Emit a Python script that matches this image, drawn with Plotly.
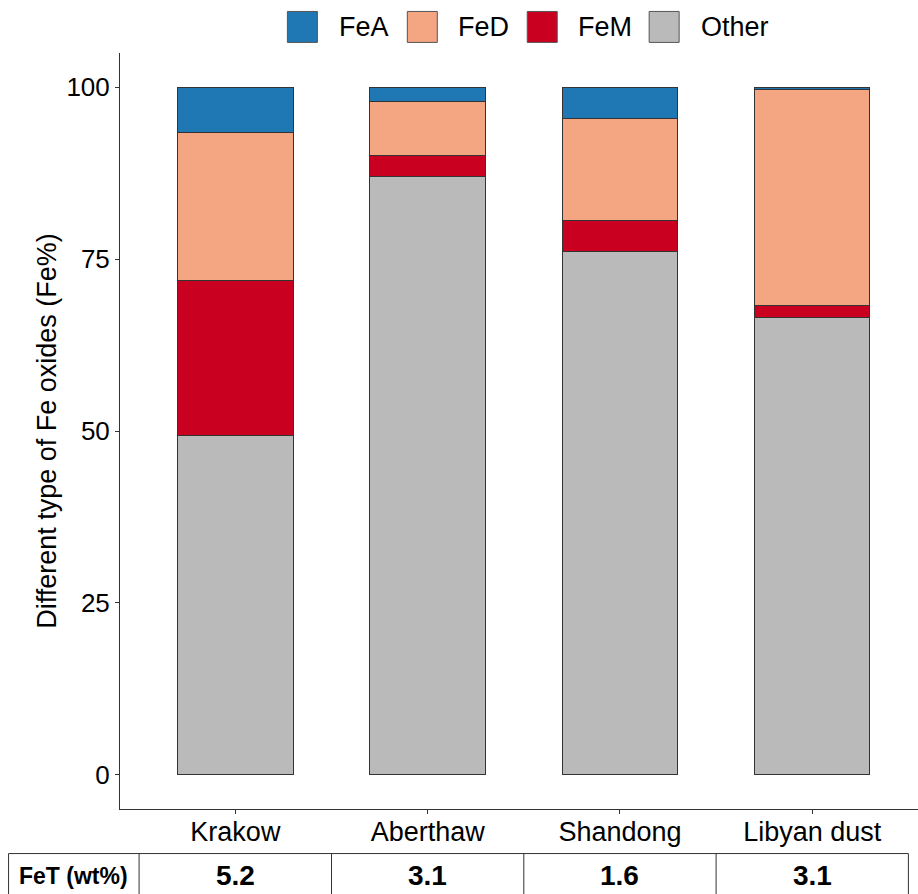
import plotly.graph_objects as go

sites = ["Krakow", "Aberthaw", "Shandong", "Libyan dust"]
other = [49.3, 87.1, 76.1, 66.5]
fem = [22.6, 3.0, 4.5, 1.7]
fed = [21.6, 7.9, 14.8, 31.5]
fea = [6.5, 2.0, 4.6, 0.3]
fet = ["5.2", "3.1", "1.6", "3.1"]
fet_label = "FeT (wt%)"

series_names = ["FeA", "FeD", "FeM", "Other"]
series_vals = [fea, fed, fem, other]
colors = {"FeA": "#1F77B4", "FeD": "#F4A582", "FeM": "#CA0020", "Other": "#BABABA"}

W, H = 918, 894
ml, mr, mt, mb = 119.5, 0, 52.6, 84.6
pw = W - ml - mr
ph = H - mt - mb

def px2x(px):
    return (px - ml) / pw

def py2y(py):
    return (H - mb - py) / ph

font_family = "Arial, Liberation Sans, sans-serif"

fig = go.Figure()
# stack from bottom: Other, FeM, FeD, FeA
for name in ["Other", "FeM", "FeD", "FeA"]:
    vals = series_vals[series_names.index(name)]
    fig.add_trace(go.Bar(
        x=sites, y=vals, name=name, showlegend=False,
        marker=dict(color=colors[name], line=dict(color="#333333", width=1)),
        width=0.6, hoverinfo="skip",
    ))

shapes = []
annotations = []

# manual legend (large keys)
box_x = [287, 407, 527, 649]
txt_x = [337, 456, 576, 699]
for i, name in enumerate(series_names):
    shapes.append(dict(type="rect", xref="paper", yref="paper",
                       x0=px2x(box_x[i]), x1=px2x(box_x[i] + 30),
                       y0=py2y(42), y1=py2y(11),
                       fillcolor=colors[name], line=dict(color="#555555", width=1)))
    annotations.append(dict(xref="paper", yref="paper", x=px2x(txt_x[i]), y=py2y(27),
                            text=name, showarrow=False, xanchor="left", yanchor="middle",
                            font=dict(size=27, color="black", family=font_family)))

# table below the axis
t_top, t_bot = py2y(854), py2y(940)
left = px2x(8)
shapes.append(dict(type="rect", xref="paper", yref="paper", x0=left, x1=px2x(908.4),
                   y0=t_bot, y1=t_top, line=dict(color="#333333", width=1)))
shapes.append(dict(type="line", xref="paper", yref="paper", x0=px2x(138.6), x1=px2x(138.6),
                   y0=t_bot, y1=t_top, line=dict(color="#333333", width=1)))
for k in range(len(sites) - 1):
    shapes.append(dict(type="line", xref="x", yref="paper", x0=k + 0.5, x1=k + 0.5,
                       y0=t_bot, y1=t_top, line=dict(color="#333333", width=1)))
annotations.append(dict(xref="paper", yref="paper", x=px2x(73), y=py2y(876),
                        text="<b>" + fet_label + "</b>", showarrow=False,
                        xanchor="center", yanchor="middle",
                        font=dict(size=23, color="black", family=font_family)))
for i, s in enumerate(sites):
    annotations.append(dict(xref="x", yref="paper", x=s, y=py2y(876),
                            text="<b>" + fet[i] + "</b>", showarrow=False,
                            xanchor="center", yanchor="middle",
                            font=dict(size=28, color="black", family=font_family)))

fig.update_layout(
    width=W, height=H,
    margin=dict(l=ml, r=mr, t=mt, b=mb, pad=0),
    barmode="stack", bargap=0.4,
    plot_bgcolor="white", paper_bgcolor="white",
    font=dict(family=font_family, color="black"),
    shapes=shapes, annotations=annotations,
    showlegend=False, hovermode=False,
)
fig.update_xaxes(
    range=[-0.6, 3.55], showline=True, linecolor="#333333", linewidth=1,
    ticks="outside", ticklen=4, tickcolor="#333333", showgrid=False,
    tickfont=dict(size=27, color="black"), zeroline=False, ticklabelstandoff=-5,
)
fig.update_yaxes(
    range=[-5, 105], tickvals=[0, 25, 50, 75, 100], showline=True, linecolor="#333333",
    linewidth=1, ticks="outside", ticklen=4, tickcolor="#333333", showgrid=False,
    zeroline=False, tickfont=dict(size=26, color="black"),
    title=dict(text="Different type of Fe oxides (Fe%)", font=dict(size=27, color="black"), standoff=1),
)

fig.write_html("out.html", config={"displayModeBar": False},
               post_script="document.body.style.margin='0';document.body.style.overflow='hidden';")
